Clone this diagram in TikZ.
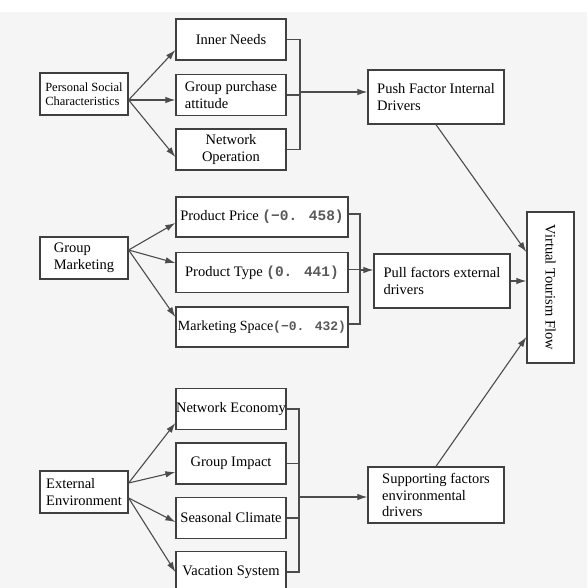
\documentclass[tikz,border=0pt]{standalone}
\usepackage{fontspec}
\setmainfont{Liberation Serif}
\newfontfamily\numfont{Liberation Mono}
\usepackage{xcolor}
\usetikzlibrary{arrows.meta, positioning}

\newcommand{\coef}[1]{{\numfont\bfseries\color{black!65}#1}}

\begin{document}
\begin{tikzpicture}[x=1pt, y=-1pt,
    box/.style={draw=black!75, line width=1.3pt, fill=white, inner sep=3pt,
        font=\fontsize{14.5}{17}\selectfont},
    srcbox/.style={box, minimum width=88pt, minimum height=42pt, align=left},
    itembox/.style={box, minimum width=110pt, minimum height=41pt},
    widebox/.style={box, minimum width=172pt, minimum height=40pt, inner xsep=1pt},
    drvbox/.style={box, minimum width=136pt, minimum height=54pt, align=left},
    link/.style={draw=black!70, line width=1.1pt},
    arr/.style={link, -{Latex[length=10pt,width=6.5pt]}}]

    \useasboundingbox (0,0) rectangle (587,588);
    \clip (0,0) rectangle (587,588);
    \fill[black!4] (0,12) rectangle (587,588);

    % Push factors
    \node[srcbox, font=\fontsize{12.5}{14}\selectfont] (social) at (84,94) {Personal Social\\Characteristics};
    \node[itembox] (needs) at (231,39.5) {Inner Needs};
    \node[itembox, align=left] (attitude) at (231,95) {Group purchase\\attitude};
    \node[itembox, align=center] (operation) at (231,149.5) {Network\\Operation};
    \node[drvbox] (push) at (436,97) {Push Factor Internal\\Drivers};

    % Pull factors
    \node[widebox] (price) at (262,217) {Product Price \coef{(−0. 458)}};
    \node[widebox] (type) at (262,272.5) {Product Type \coef{(0. 441)}};
    \node[widebox, font=\fontsize{14}{17}\selectfont] (space) at (262,327) {Marketing Space\coef{\fontsize{13}{17}\selectfont(−0. 432)}};
    \node[srcbox] (marketing) at (84,258) {Group\\Marketing};
    \node[drvbox] (pull) at (442,281) {Pull factors external\\drivers};

    % Supporting factors
    \node[srcbox] (environment) at (84,492) {External\\Environment};
    \node[itembox, inner xsep=0pt] (economy) at (231,409) {Network Economy};
    \node[itembox] (impact) at (231,463.5) {Group Impact};
    \node[itembox] (climate) at (231,518) {Seasonal Climate};
    \node[itembox] (vacation) at (231,572) {Vacation System};
    \node[drvbox, minimum height=56pt, font=\fontsize{14.5}{16.5}\selectfont] (support) at (436,495) {Supporting factors\\environmental\\drivers};

    \node[box, minimum width=47pt, minimum height=151pt, inner sep=0pt] (flow) at (550.5,287.5) {\rotatebox{-90}{Virtual Tourism Flow}};

    % Fan-out arrows
    \foreach \t/\d in {needs/-10.5, attitude/-5, operation/-7.5}
        \draw[arr] ([yshift=-6pt]social.east) -- ([yshift=\d pt]\t.west);
    \foreach \t/\d in {price/-6, type/9.5, space/10}
        \draw[arr] ([yshift=8pt]marketing.east) -- ([yshift=\d pt]\t.west);
    \foreach \t/\d in {economy/-14, impact/-8.5}
        \draw[arr] ([yshift=9pt]environment.east) -- ([yshift=\d pt]\t.west);
    \foreach \t/\d in {climate/-4, vacation/0}
        \draw[arr] ([yshift=-6pt]environment.east) -- ([yshift=\d pt]\t.west);

    % Brackets
    \coordinate (bus1) at (300,92);
    \foreach \t in {needs, attitude, operation}
        \draw[link] (\t.east) -| (bus1);
    \draw[arr] (bus1) -- (bus1 -| push.west);

    \coordinate (bus2) at (360,270);
    \foreach \t in {price, type, space}
        \draw[link] ([yshift=3pt]\t.east) -| (bus2);
    \draw[arr] (bus2) -- (bus2 -| pull.west);

    \coordinate (bus3) at (299,497);
    \foreach \t in {economy, impact, climate, vacation}
        \draw[link] (\t.east) -| (bus3);
    \draw[arr] (bus3) -- (bus3 -| support.west);

    % Into the flow
    \draw[arr] (push.south) -- ([yshift=35.5pt]flow.west);
    \draw[arr] (pull.east) -- (pull.east -| flow.west);
    \draw[arr] (support.north) -- ([yshift=-49.5pt]flow.west);
\end{tikzpicture}
\end{document}
